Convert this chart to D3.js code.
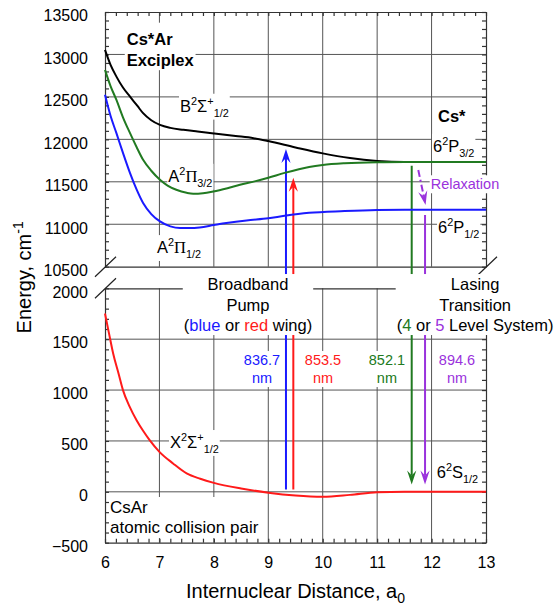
<!DOCTYPE html>
<html>
<head>
<meta charset="utf-8">
<script src="https://cdn.jsdelivr.net/npm/d3@7"></script>
<style>
body { margin: 0; background: #fff; }
svg { display: block; font-family: "Liberation Sans", Arial, sans-serif; }
</style>
</head>
<body>
<div id="chart"></div>
<script>
// axis values
var xTicks = [6, 7, 8, 9, 10, 11, 12, 13];
var upperTicks = [10500, 11000, 11500, 12000, 12500, 13000, 13500];
var lowerTicks = [-500, 0, 500, 1000, 1500, 2000];

// potential curves: [r in a0, energy in cm-1]
var stateB = [[6, 13053], [6.1, 12880], [6.21, 12739], [6.33, 12610], [6.46, 12503], [6.6, 12390],
  [6.7, 12308], [6.85, 12225], [7.01, 12170], [7.2, 12135], [7.44, 12112], [7.7, 12092], [8, 12070],
  [8.4, 12040], [8.73, 12014], [9, 11980], [9.5, 11905], [10, 11835], [10.5, 11780], [11, 11745],
  [11.5, 11732], [12, 11732], [13, 11732]];
var stateA32 = [[6, 12818], [6.1, 12630], [6.21, 12465], [6.33, 12260], [6.46, 12073], [6.58, 11910],
  [6.7, 11759], [6.85, 11630], [7.01, 11524], [7.15, 11455], [7.31, 11406], [7.5, 11370], [7.62, 11359],
  [7.8, 11365], [7.99, 11386], [8.25, 11425], [8.48, 11465], [8.75, 11505], [9, 11548], [9.3, 11605],
  [9.75, 11675], [10, 11698], [10.4, 11718], [11, 11730], [11.5, 11732], [12, 11732], [13, 11732]];
var stateA12 = [[6, 12524], [6.1, 12280], [6.21, 12073], [6.33, 11840], [6.46, 11602], [6.58, 11410],
  [6.7, 11250], [6.85, 11120], [7.01, 11033], [7.2, 10975], [7.38, 10955], [7.55, 10955], [7.74, 10962],
  [8, 10990], [8.23, 11014], [8.6, 11045], [9, 11070], [9.3, 11100], [9.75, 11135], [10.4, 11155],
  [11, 11168], [11.5, 11172], [13, 11172]];
var stateX = [[6, 1752], [6.08, 1540], [6.15, 1359], [6.25, 1160], [6.33, 999], [6.45, 840], [6.58, 704],
  [6.7, 600], [6.82, 508], [7, 393], [7.25, 279], [7.5, 181], [7.75, 128], [8, 88], [8.5, 33], [9, -8],
  [9.5, -36], [10, -48], [10.5, -30], [11, -5], [11.5, 0], [12, 0], [13, 0]];

// transitions: pump up (blue, red), lasing down (green, purple)
var arrowR = [9.325, 9.46, 11.635, 11.88];
var arrowFrom = [24, 24, 11690, 11109];
var arrowTo = [11886, 11548, 73, 73];
var waveNm = ["836.7", "853.5", "852.1", "894.6"];
// relaxation between the fine-structure levels
var relaxR = [11.756, 11.89];
var relaxE = [11639, 11227];

var W = 556, H = 607;
var blue = "#1a1aff", red = "#ff1a1a", green = "#217a21", purple = "#9a32dc";

var x = d3.scaleLinear().domain([6, 13]).range([105, 486]);
var yU = d3.scaleLinear().domain([10500, 13500]).range([266.7, 12]);
var yL = d3.scaleLinear().domain([-500, 2000]).range([542.7, 288.3]);
function yE(e) { return e > 5000 ? yU(e) : yL(e); }

var svg = d3.select("#chart").append("svg").attr("width", W).attr("height", H);
svg.append("rect").attr("width", W).attr("height", H).attr("fill", "#fff");

// grid lines
function grid(ys, hVals) {
  var g = svg.append("g").attr("stroke", "#555").attr("stroke-width", 1);
  g.selectAll(null).data(xTicks.slice(1, -1)).enter().append("line")
    .attr("x1", function(d) { return x(d); }).attr("x2", function(d) { return x(d); })
    .attr("y1", ys.range()[0]).attr("y2", ys.range()[1]);
  g.selectAll(null).data(hVals).enter().append("line")
    .attr("x1", x(6)).attr("x2", x(13))
    .attr("y1", function(d) { return ys(d); }).attr("y2", function(d) { return ys(d); });
}
grid(yU, upperTicks.slice(1, -1));
grid(yL, lowerTicks.slice(1, -1));

// axes
var minorX = d3.range(30, 66).map(function(d) { return d / 5; });
var fmt = d3.format("d");
function styleAxis(g) {
  g.attr("font-family", null).attr("font-size", 16).attr("color", "#333");
  g.selectAll("text").attr("fill", "#000");
  g.selectAll("path, line").attr("stroke-width", 1.2);
}
function yAxes(ys, labels) {
  var minor = d3.range(ys.domain()[0], ys.domain()[1] + 1, 100);
  svg.append("g").attr("transform", "translate(" + x(6) + ",0)")
    .call(d3.axisLeft(ys).tickValues(minor).tickSizeInner(-4).tickSizeOuter(0).tickFormat(""))
    .call(styleAxis);
  svg.append("g").attr("transform", "translate(" + x(13) + ",0)")
    .call(d3.axisRight(ys).tickValues(minor).tickSizeInner(-4).tickSizeOuter(0).tickFormat(""))
    .call(styleAxis);
  var t = svg.append("g").attr("transform", "translate(" + x(6) + ",0)")
    .call(d3.axisLeft(ys).tickValues(labels).tickSize(0).tickPadding(17).tickFormat(fmt))
    .call(styleAxis);
  t.select(".domain").remove();
  t.selectAll("text").attr("dy", "0.55em");
}
yAxes(yU, upperTicks);
yAxes(yL, lowerTicks);

svg.append("g").attr("transform", "translate(0," + yU(13500) + ")")
  .call(d3.axisTop(x).tickValues(minorX).tickSizeInner(-4).tickSizeOuter(0).tickFormat(""))
  .call(styleAxis);
svg.append("g").attr("transform", "translate(0," + yU(10500) + ")")
  .call(d3.axisBottom(x).tickValues([]).tickSizeOuter(0))
  .call(styleAxis);
svg.append("g").attr("transform", "translate(0," + yL(2000) + ")")
  .call(d3.axisTop(x).tickValues([]).tickSizeOuter(0))
  .call(styleAxis);
svg.append("g").attr("transform", "translate(0," + yL(-500) + ")")
  .call(d3.axisBottom(x).tickValues(minorX).tickSizeInner(-4).tickSizeOuter(0).tickFormat(""))
  .call(styleAxis);
var xl = svg.append("g").attr("transform", "translate(0," + yL(-500) + ")")
  .call(d3.axisBottom(x).tickValues(xTicks).tickSize(0).tickPadding(14).tickFormat(fmt))
  .call(styleAxis);
xl.select(".domain").remove();

// axis break marks
[[x(6), yU(10500)], [x(6), yL(2000)], [x(13), yU(10500)], [x(13), yL(2000)]].forEach(function(p) {
  svg.append("line").attr("x1", p[0] - 10).attr("y1", p[1] + 10).attr("x2", p[0] + 11).attr("y2", p[1] - 10)
    .attr("stroke", "#222").attr("stroke-width", 1.2);
});

// arrows
function arrow(x1, y1, x2, y2, color, dash) {
  var ang = Math.atan2(y2 - y1, x2 - x1), L = 14, back = 9, hw = 4.6;
  svg.append("line").attr("x1", x1).attr("y1", y1)
    .attr("x2", x2 - Math.cos(ang) * back).attr("y2", y2 - Math.sin(ang) * back)
    .attr("stroke", color).attr("stroke-width", 2).attr("stroke-dasharray", dash || null);
  svg.append("path").attr("d", "M0,0L" + (-L) + "," + (-hw) + "L" + (-back) + ",0L" + (-L) + "," + hw + "Z")
    .attr("transform", "translate(" + x2 + "," + y2 + ") rotate(" + ang * 180 / Math.PI + ")")
    .attr("fill", color);
}
var arrowColors = [blue, red, green, purple];
arrowR.forEach(function(r, i) {
  arrow(x(r), yE(arrowFrom[i]), x(r), yE(arrowTo[i]), arrowColors[i]);
});
arrow(x(relaxR[0]), yU(relaxE[0]), x(relaxR[1]), yU(relaxE[1]), purple, "7,3,2,3");

// labels with white boxes
function richText(px, py, lines, o) {
  o = o || {};
  var fs = o.size || 16.5, lh = o.lh || fs * 1.24;
  var lg = svg.append("g");
  var bg = lg.append("rect").attr("fill", "#fff");
  var t = lg.append("text").attr("x", px).attr("y", py).attr("font-size", fs)
    .attr("text-anchor", o.anchor || "start").attr("fill", o.fill || "#000")
    .attr("font-weight", o.bold ? "bold" : null).style("white-space", "pre");
  var cur = 0;
  lines.forEach(function(parts, li) {
    parts.forEach(function(p, pi) {
      if (typeof p === "string") p = {t: p};
      var off = p.sup ? -0.42 * fs : p.sub ? 0.3 * fs : 0;
      var dy = off - cur + (pi === 0 && li > 0 ? lh : 0);
      var ts = t.append("tspan").text(p.t);
      if (pi === 0) ts.attr("x", px);
      if (dy) ts.attr("dy", dy);
      if (p.sup || p.sub) ts.attr("font-size", fs * 0.66);
      if (p.serif) ts.attr("font-family", '"Liberation Serif", "Times New Roman", serif');
      if (p.fill) ts.attr("fill", p.fill);
      cur = off;
    });
  });
  var b = t.node().getBBox(), pad = o.pad || [1, 1, 1, 1];
  bg.attr("x", b.x - pad[3]).attr("y", b.y - pad[0])
    .attr("width", b.width + pad[1] + pad[3]).attr("height", b.height + pad[0] + pad[2]);
}

richText(x(6.4), yU(13115), [["Cs*Ar"], ["Exciplex"]], {bold: true, lh: 21.5, pad: [7, 1, 1, 2]});
richText(x(7.378), yU(12326), [["B", {t: "2", sup: 1}, "Σ", {t: "+", sup: 1}, {t: "1/2", sub: 1}]]);
richText(x(7.163), yU(11501), [["A", {t: "2", sup: 1}, {t: "Π", serif: 1}, {t: "3/2", sub: 1}]]);
richText(x(6.955), yU(10661), [["A", {t: "2", sup: 1}, {t: "Π", serif: 1}, {t: "1/2", sub: 1}]]);
richText(x(12.118), yU(12208), [["Cs*"]], {bold: true});
richText(x(12.026), yU(11854), [["6", {t: "2", sup: 1}, "P", {t: "3/2", sub: 1}]]);
richText(x(11.984), yU(11412), [["Relaxation"]], {size: 14.5, fill: purple});
richText(x(12.118), yU(10894), [["6", {t: "2", sup: 1}, "P", {t: "1/2", sub: 1}]]);

richText(x(8.627), yL(1983), [["Broadband"], ["Pump"],
  ["(", {t: "blue", fill: blue}, " or ", {t: "red", fill: red}, " wing)"]], {anchor: "middle", lh: 20.5});
richText(x(12.8), yL(1983), [["Lasing"], ["Transition"],
  ["(", {t: "4", fill: green}, " or ", {t: "5", fill: purple}, " Level System)"]], {anchor: "middle", lh: 20.5});

var waveX = [8.884, 10.005, 11.18, 12.467];
waveNm.forEach(function(w, i) {
  richText(x(waveX[i]), yL(1246), [[w], ["nm"]], {anchor: "middle", size: 14.5, lh: 18, fill: arrowColors[i]});
});
richText(x(7.194), yL(431), [["X", {t: "2", sup: 1}, "Σ", {t: "+", sup: 1}, {t: "1/2", sub: 1}]]);
richText(x(12.094), yL(139), [["6", {t: "2", sup: 1}, "S", {t: "1/2", sub: 1}]]);
richText(x(6.092), yL(-208), [["CsAr"], ["atomic collision pair"]], {size: 17, lh: 20});

// potential curves, drawn above the label boxes
function curve(data, ys, color) {
  var line = d3.line().x(function(d) { return x(d[0]); }).y(function(d) { return ys(d[1]); })
    .curve(d3.curveMonotoneX);
  svg.append("path").datum(data).attr("d", line)
    .attr("fill", "none").attr("stroke", color).attr("stroke-width", 2);
}
curve(stateB, yU, "#000");
curve(stateA32, yU, green);
curve(stateA12, yU, blue);
curve(stateX, yL, red);

// axis titles
var yt = svg.append("text").attr("transform", "translate(31," + (yU(13500) + yL(-500)) / 2 + ") rotate(-90)")
  .attr("text-anchor", "middle").attr("font-size", 20);
yt.append("tspan").text("Energy, cm");
yt.append("tspan").attr("dy", -8).attr("font-size", 14).text("-1");

var xt = svg.append("text").attr("x", (x(6) + x(13)) / 2).attr("y", 598)
  .attr("text-anchor", "middle").attr("font-size", 20);
xt.append("tspan").text("Internuclear Distance, a");
xt.append("tspan").attr("dy", 5).attr("font-size", 14).text("0");
</script>
</body>
</html>
